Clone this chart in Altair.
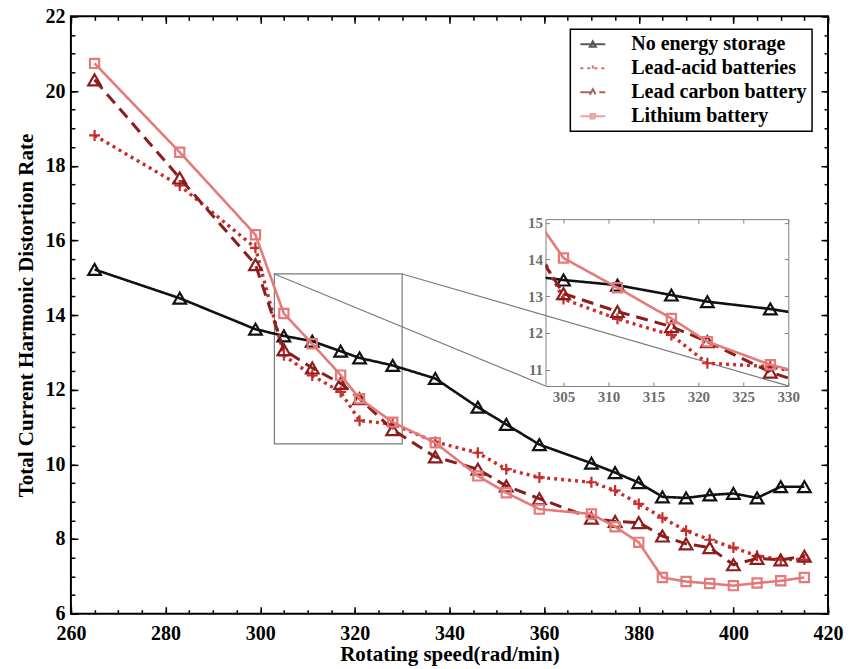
import altair as alt
import pandas as pd

# ---------------- data ----------------
speed = [265, 283, 299, 305, 311, 317, 321, 328, 337, 346, 352, 359,
         370, 375, 380, 385, 390, 395, 400, 405, 410, 415]
no_storage = [15.22, 14.45, 13.62, 13.44, 13.30, 13.03, 12.85, 12.65, 12.30, 11.53, 11.07, 10.53,
              10.03, 9.78, 9.51, 9.13, 9.10, 9.18, 9.22, 9.10, 9.40, 9.40]
lead_acid = [18.81, 17.47, 15.80, 12.92, 12.38, 11.94, 11.17, 11.08, 10.60, 10.31, 9.87, 9.65,
             9.52, 9.30, 8.94, 8.57, 8.22, 7.98, 7.77, 7.55, 7.45, 7.45]
lead_carbon = [20.30, 17.67, 15.35, 13.07, 12.58, 12.17, 11.76, 10.93, 10.20, 9.87, 9.42, 9.08,
               8.56, 8.47, 8.44, 8.08, 7.87, 7.77, 7.31, 7.48, 7.44, 7.54]
lithium = [20.74, 18.36, 16.15, 14.04, 13.23, 12.39, 11.76, 11.13, 10.58, 9.69, 9.24, 8.80,
           8.67, 8.33, 7.91, 6.97, 6.86, 6.81, 6.75, 6.82, 6.88, 6.97]

series_names = ["No energy storage", "Lead-acid batteries", "Lead carbon battery", "Lithium battery"]
series_values = [no_storage, lead_acid, lead_carbon, lithium]

x_major = [260, 280, 300, 320, 340, 360, 380, 400, 420]
x_minor = list(range(260, 421, 5))
y_major = [6, 8, 10, 12, 14, 16, 18, 20, 22]
y_minor = [v / 2 for v in range(12, 45)]
inset_x_ticks = [305, 310, 315, 320, 325, 330]
inset_y_ticks = [11, 12, 13, 14, 15]

X_DOMAIN = [260, 420]
Y_DOMAIN = [6, 22]
ZOOM_X = [303, 330]
ZOOM_Y = [10.55, 15.1]
# where the inset sits, in main-chart data units
INSET_X = [360.3, 411.6]
INSET_Y = [12.1, 16.57]

# ---------------- styles ----------------
FONT = "Liberation Serif"
colors = ["#111111", "#c62d2b", "#8c1d1d", "#e47a7a"]
dashes = [[1, 0], [3, 4], [12, 7], [1, 0]]
widths = [2.6, 3.4, 3, 2.6]
shapes = ["triangle-up", "M-1,0H1M0,-1V1", "triangle-up", "square"]
sizes = [160, 120, 160, 85]
legend_paths = [
    "M-1,0H4M0.9,0.5L1.5,-0.6L2.1,0.5Z",
    "M-1,0H4M1.5,-0.55V0.55",
    "M-1,0H4M0.9,0.5L1.5,-0.6L2.1,0.5Z",
    "M-1,0H4M1.05,-0.45H1.95V0.45H1.05Z",
]

W, H = 758, 598
il = (INSET_X[0] - X_DOMAIN[0]) / (X_DOMAIN[1] - X_DOMAIN[0]) * W
ir = (INSET_X[1] - X_DOMAIN[0]) / (X_DOMAIN[1] - X_DOMAIN[0]) * W
it = (Y_DOMAIN[1] - INSET_Y[1]) / (Y_DOMAIN[1] - Y_DOMAIN[0]) * H
ib = (Y_DOMAIN[1] - INSET_Y[0]) / (Y_DOMAIN[1] - Y_DOMAIN[0]) * H
IW, IH = ir - il, ib - it

rows = []
for name, vals in zip(series_names, series_values):
    for s, v in zip(speed, vals):
        rows.append({"speed": s, "thd": v, "series": name})
df = pd.DataFrame(rows)

carrier = pd.DataFrame({"x": X_DOMAIN, "y": Y_DOMAIN})
icarrier = pd.DataFrame({"x": ZOOM_X, "y": ZOOM_Y})


def ax(orient, values, size, color="black", width=1.5, labels=False, title=None, **kw):
    return alt.Axis(orient=orient, values=values, tickSize=size, offset=-size, domain=False,
                    grid=False, labels=labels, labelFlush=False, tickColor=color, tickWidth=width,
                    title=title, **kw)


def carrier_layer(data, xs, ys, xaxis, yaxis):
    return alt.Chart(data).mark_point(opacity=0).encode(
        x=alt.X("x:Q", scale=xs, axis=xaxis),
        y=alt.Y("y:Q", scale=ys, axis=yaxis),
    )


def series_layers(xs, ys, clip):
    out = []
    for i, name in enumerate(series_names):
        base = alt.Chart(df).transform_filter(alt.datum.series == name)
        enc = dict(x=alt.X("speed:Q", scale=xs, axis=None), y=alt.Y("thd:Q", scale=ys, axis=None))
        out.append(base.mark_line(color=colors[i], strokeWidth=widths[i], strokeDash=dashes[i],
                                  clip=clip).encode(**enc))
        out.append(base.mark_point(shape=shapes[i], size=sizes[i], filled=False, color=colors[i],
                                   strokeWidth=2.2, opacity=1, clip=clip).encode(**enc))
    return out


lab = dict(labelFont=FONT, labelFontSize=20, labelFontWeight="bold", labelColor="black")
tit = dict(titleFont=FONT, titleFontSize=21, titleFontWeight="bold", titleColor="black")

XS = alt.Scale(domain=X_DOMAIN, nice=False, zero=False)
YS = alt.Scale(domain=Y_DOMAIN, nice=False, zero=False)

main_axes = [
    carrier_layer(carrier, XS, YS,
                  ax("bottom", x_major, 7, labels=True, title="Rotating speed(rad/min)",
                     labelPadding=10, titlePadding=0, **lab, **tit),
                  ax("left", y_major, 7, labels=True, title="Total Current Harmonic Distortion Rate",
                     labelPadding=6, titlePadding=8, **lab, **tit)),
    carrier_layer(carrier, XS, YS, ax("bottom", x_minor, 4), ax("left", y_minor, 4)),
    carrier_layer(carrier, XS, YS, ax("top", x_major, 7), ax("right", y_major, 7)),
    carrier_layer(carrier, XS, YS, ax("top", x_minor, 4), ax("right", y_minor, 4)),
]

box_df = pd.DataFrame({"x": [ZOOM_X[0]], "x2": [ZOOM_X[1]], "y": [ZOOM_Y[0]], "y2": [ZOOM_Y[1]]})
zoom_box = alt.Chart(box_df).mark_rect(fillOpacity=0, stroke="#7a7a7a", strokeWidth=1.2).encode(
    x=alt.X("x:Q", scale=XS, axis=None), x2="x2:Q",
    y=alt.Y("y:Q", scale=YS, axis=None), y2="y2:Q")

conn_df = pd.DataFrame({"x": [ZOOM_X[0], ZOOM_X[1]], "y": [ZOOM_Y[1], ZOOM_Y[1]],
                        "x2": [INSET_X[0], INSET_X[1]], "y2": [INSET_Y[0], INSET_Y[0]]})
connectors = alt.Chart(conn_df).mark_rule(color="#7a7a7a", strokeWidth=1.2).encode(
    x=alt.X("x:Q", scale=XS, axis=None), x2="x2:Q",
    y=alt.Y("y:Q", scale=YS, axis=None), y2="y2:Q")

leg = alt.Legend(title=None, orient="none", legendX=500, legendY=13, direction="vertical",
                 fillColor="white", strokeColor="black", padding=5, symbolSize=100,
                 symbolStrokeWidth=2, labelFont=FONT, labelFontSize=20, labelFontWeight="bold",
                 labelColor="black", labelOffset=36, rowPadding=4, labelLimit=400)
legend_layer = alt.Chart(pd.DataFrame({"series": series_names})).mark_point(
    filled=False, size=10, strokeWidth=1).encode(
    x=alt.value(620), y=alt.value(60),
    color=alt.Color("series:N", scale=alt.Scale(domain=series_names, range=colors), legend=leg),
    shape=alt.Shape("series:N", scale=alt.Scale(domain=series_names, range=legend_paths), legend=leg),
    strokeDash=alt.StrokeDash("series:N", scale=alt.Scale(domain=series_names, range=dashes), legend=leg),
)

main = alt.layer(*main_axes, zoom_box, connectors, *series_layers(XS, YS, False), legend_layer).resolve_axis(
    x="independent", y="independent").properties(
    width=W, height=H, view=alt.ViewBackground(stroke="black", strokeWidth=2))

# ---------------- inset ----------------
IXS = alt.Scale(domain=ZOOM_X, nice=False, zero=False)
IYS = alt.Scale(domain=ZOOM_Y, nice=False, zero=False)
GRAY = "#808080"
ilab = dict(labelFont=FONT, labelFontSize=15, labelFontWeight="bold", labelColor="#6e6e6e")
inset_axes = [
    carrier_layer(icarrier, IXS, IYS,
                  ax("bottom", inset_x_ticks, 4, color=GRAY, width=1, labels=True, labelPadding=4, **ilab),
                  ax("left", inset_y_ticks, 4, color=GRAY, width=1, labels=True, labelPadding=3, **ilab)),
    carrier_layer(icarrier, IXS, IYS, ax("top", inset_x_ticks, 4, color=GRAY, width=1),
                  ax("right", inset_y_ticks, 4, color=GRAY, width=1)),
]
inset = alt.layer(*inset_axes, *series_layers(IXS, IYS, True)).resolve_axis(
    x="independent", y="independent").properties(
    width=IW, height=IH, view=alt.ViewBackground(stroke=GRAY, strokeWidth=1))

spacer = alt.Chart(carrier).mark_point(opacity=0).encode(
    x=alt.X("x:Q", axis=None), y=alt.Y("y:Q", axis=None)).properties(
    width=IW, height=it, view=alt.ViewBackground(stroke="transparent"))

right_col = alt.vconcat(spacer, inset, spacing=0, bounds="flush")
chart = alt.concat(main, right_col, columns=2, spacing=il - W, bounds="flush", align="none").properties(
    padding={"left": 15, "top": 5, "right": 5, "bottom": 0}, background="white"
).configure(font=FONT).configure_legend(strokeWidth=1.5)

chart.save("out.html", embed_options={"renderer": "svg", "actions": False})
